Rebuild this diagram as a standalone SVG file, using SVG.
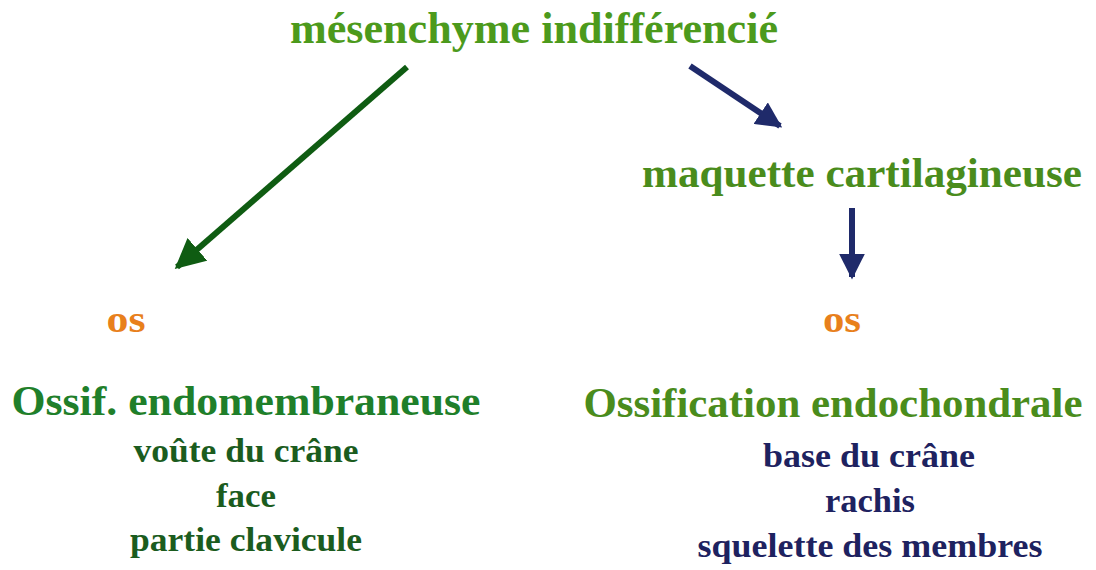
<svg xmlns="http://www.w3.org/2000/svg" width="1096" height="570" viewBox="0 0 1096 570">
<style>
text{font-family:"Liberation Serif","DejaVu Serif",serif;font-weight:bold;text-anchor:middle}
.t1{font-size:44px;fill:#4c9a1c}
.t2{font-size:42px;fill:#4a8c1c}
.os{font-size:37px;fill:#e8801c}
.h1{font-size:43px;fill:#1f7f2a}
.h2{font-size:43px;fill:#4a8c1c}
.l1{font-size:33px;fill:#1b5c1e}
.l2{font-size:33px;fill:#1e2260}
</style>
<defs>
<marker id="ag" viewBox="0 0 10 10" refX="9" refY="5" markerWidth="5" markerHeight="5" orient="auto" markerUnits="strokeWidth"><path d="M0,0L10,5L0,10z" fill="#0f5c12"/></marker>
<marker id="ab" viewBox="0 0 10 10" refX="9" refY="5" markerWidth="4.3" markerHeight="4.3" orient="auto" markerUnits="strokeWidth"><path d="M0,0L10,5L0,10z" fill="#1f2a6a"/></marker>
</defs>
<rect width="1096" height="570" fill="#fff"/>
<g id="connectors">
<line x1="407" y1="67" x2="177" y2="267" stroke="#0f5c12" stroke-width="6" marker-end="url(#ag)"/>
<line x1="690" y1="66" x2="780" y2="126" stroke="#1f2a6a" stroke-width="6" marker-end="url(#ab)"/>
<line x1="852" y1="208" x2="852" y2="277" stroke="#1f2a6a" stroke-width="6" marker-end="url(#ab)"/>
</g>
<g id="mesenchyme"><text class="t1" x="534" y="43" textLength="488" lengthAdjust="spacingAndGlyphs">mésenchyme indifférencié</text></g>
<g id="maquette"><text class="t2" x="862" y="187" textLength="440" lengthAdjust="spacingAndGlyphs">maquette cartilagineuse</text></g>
<g id="os-left"><text class="os" x="126" y="332" textLength="39" lengthAdjust="spacingAndGlyphs">os</text></g>
<g id="os-right"><text class="os" x="842" y="332" textLength="38" lengthAdjust="spacingAndGlyphs">os</text></g>
<g id="endomembraneuse">
<text class="h1" x="246" y="415" textLength="469" lengthAdjust="spacingAndGlyphs">Ossif. endomembraneuse</text>
<text class="l1" x="246" y="462" textLength="225" lengthAdjust="spacingAndGlyphs">voûte du crâne</text>
<text class="l1" x="246" y="507" textLength="60" lengthAdjust="spacingAndGlyphs">face</text>
<text class="l1" x="246" y="551" textLength="232" lengthAdjust="spacingAndGlyphs">partie clavicule</text>
</g>
<g id="endochondrale">
<text class="h2" x="833" y="417" textLength="499" lengthAdjust="spacingAndGlyphs">Ossification endochondrale</text>
<text class="l2" x="869" y="467" textLength="212" lengthAdjust="spacingAndGlyphs">base du crâne</text>
<text class="l2" x="870" y="512" textLength="90" lengthAdjust="spacingAndGlyphs">rachis</text>
<text class="l2" x="870" y="557" textLength="345" lengthAdjust="spacingAndGlyphs">squelette des membres</text>
</g>
</svg>
